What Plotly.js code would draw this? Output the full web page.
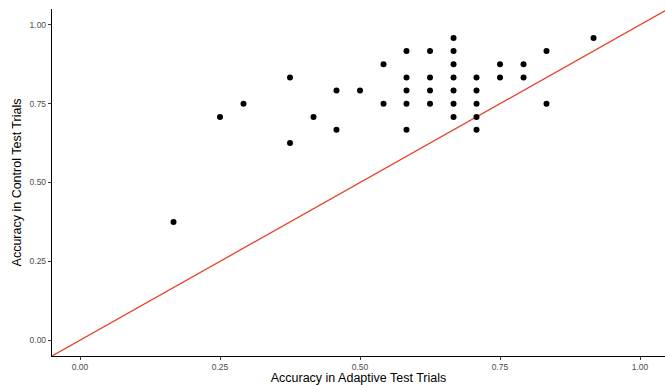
<!DOCTYPE html>
<html>
<head>
<meta charset="utf-8">
<script src="https://cdn.plot.ly/plotly-3.0.1.min.js"></script>
<style>html,body{margin:0;padding:0;background:#fff;}#chart{width:665px;height:385px;}</style>
</head>
<body>
<div id="chart"></div>
<script>
// Accuracy per participant (adaptive vs control test trials)
var adaptiveAcc = [0.167, 0.250, 0.292, 0.375, 0.375, 0.417, 0.458, 0.458, 0.500,
  0.542, 0.542,
  0.583, 0.583, 0.583, 0.583, 0.583,
  0.625, 0.625, 0.625, 0.625,
  0.667, 0.667, 0.667, 0.667, 0.667, 0.667, 0.667,
  0.708, 0.708, 0.708, 0.708, 0.708,
  0.750, 0.750, 0.792, 0.792, 0.833, 0.833, 0.917];
var controlAcc = [0.375, 0.708, 0.750, 0.833, 0.625, 0.708, 0.792, 0.667, 0.792,
  0.875, 0.750,
  0.917, 0.833, 0.792, 0.750, 0.667,
  0.917, 0.833, 0.792, 0.750,
  0.958, 0.917, 0.875, 0.833, 0.792, 0.750, 0.708,
  0.833, 0.792, 0.750, 0.708, 0.667,
  0.875, 0.833, 0.875, 0.833, 0.917, 0.750, 0.958];
// identity reference line y = x
var identityX = [-0.05, 1.1];
var identityY = [-0.05, 1.1];
var tickVals = [0, 0.25, 0.5, 0.75, 1];
var tickText = ["0.00", "0.25", "0.50", "0.75", "1.00"];

var traces = [
  {x: identityX, y: identityY, type: 'scatter', mode: 'lines',
   line: {color: '#e8432a', width: 1.3}, hoverinfo: 'skip', showlegend: false},
  {x: adaptiveAcc, y: controlAcc, type: 'scatter', mode: 'markers',
   marker: {color: '#000', size: 6}, showlegend: false}
];
var axisCommon = {
  showgrid: false, zeroline: false, showline: true, linecolor: '#000', linewidth: 1.2,
  ticks: 'outside', ticklen: 3, tickwidth: 1, tickcolor: '#333',
  tickvals: tickVals, ticktext: tickText,
  tickfont: {family: 'Arial, Liberation Sans, sans-serif', size: 8.5, color: '#4d4d4d'}
};
var layout = {
  width: 665, height: 385,
  margin: {l: 52, r: 0, t: 9, b: 29},
  paper_bgcolor: '#fff', plot_bgcolor: '#fff',
  font: {family: 'Arial, Liberation Sans, sans-serif'},
  xaxis: Object.assign({}, axisCommon, {
    range: [-0.05, 1.0446],
    title: {text: 'Accuracy in Adaptive Test Trials', standoff: 1,
            font: {size: 12.5, color: '#000'}}
  }),
  yaxis: Object.assign({}, axisCommon, {
    range: [-0.05, 1.05],
    title: {text: 'Accuracy in Control Test Trials', standoff: 5,
            font: {size: 12.5, color: '#000'}}
  })
};
Plotly.newPlot('chart', traces, layout, {displayModeBar: false, staticPlot: true});
</script>
</body>
</html>
